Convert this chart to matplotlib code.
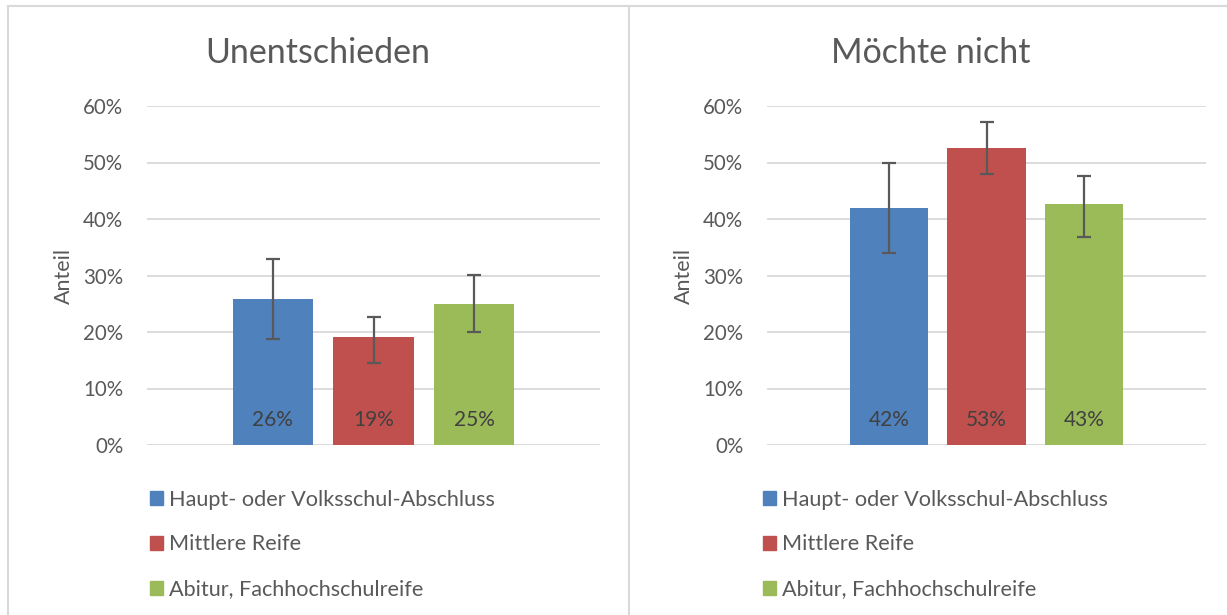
import numpy as np
import matplotlib
matplotlib.use("Agg")
import matplotlib.pyplot as plt
from matplotlib.lines import Line2D

plt.rcParams['font.family'] = ['Lato', 'DejaVu Sans']

# --- data ---
groups = ["Haupt- oder Volksschul-Abschluss", "Mittlere Reife", "Abitur, Fachhochschulreife"]
colors = ["#4f81bd", "#c0504d", "#9bbb59"]

titles = ["Unentschieden", "Möchte nicht"]
undecided = [0.258, 0.191, 0.250]
undecided_lo = [0.188, 0.145, 0.200]
undecided_hi = [0.329, 0.227, 0.301]

refuse = [0.419, 0.526, 0.426]
refuse_lo = [0.339, 0.480, 0.368]
refuse_hi = [0.500, 0.572, 0.476]

yticks = [0, 0.1, 0.2, 0.3, 0.4, 0.5, 0.6]
ylabels = ["0%", "10%", "20%", "30%", "40%", "50%", "60%"]

W, H = 1227, 615
fig = plt.figure(figsize=(W / 100, H / 100), dpi=100)

def px_axes(x0, x1, y0, y1):
    return fig.add_axes([x0 / W, 1 - y1 / H, (x1 - x0) / W, (y1 - y0) / H])

panels = [
    (px_axes(147, 600, 106, 445), undecided, undecided_lo, undecided_hi, 318, 148),
    (px_axes(767, 1206, 106, 445), refuse, refuse_lo, refuse_hi, 931, 761),
]

grid_c = "#d9d9d9"
txt_c = "#595959"

for i, (ax, vals, lo, hi, title_x, leg_x) in enumerate(panels):
    x = np.arange(len(vals))
    vals = np.array(vals)
    yerr = [vals - np.array(lo), np.array(hi) - vals]
    ax.bar(x, vals, width=0.8, color=colors, zorder=2)
    ax.errorbar(x, vals, yerr=yerr, fmt="none", ecolor="#595959",
                elinewidth=1.6, capsize=5, capthick=1.6, zorder=3)
    for xi, v in zip(x, vals):
        ax.text(xi, 0.044, f"{round(v * 100):.0f}%", ha="center", va="center",
                fontsize=15, color="#404040", zorder=4)
    ax.set_xlim(-1.25, 3.25)
    ax.set_ylim(0, 0.6)
    ax.set_yticks(yticks)
    ax.set_yticklabels(ylabels, fontsize=14.8, color=txt_c)
    ax.set_xticks([])
    ax.tick_params(axis="y", length=0, pad=17)
    ax.grid(axis="y", color=grid_c, lw=1.3, zorder=0)
    for s in ax.spines.values():
        s.set_visible(False)
    ax.set_ylabel("Anteil", fontsize=15.5, color=txt_c, labelpad=7)

    fig.text(title_x / W, 1 - 53 / H, titles[i], ha="center", va="center",
             fontsize=24.5, color=txt_c)

    handles = [plt.Rectangle((0, 0), 1, 1, color=c) for c in colors]
    fig.legend(handles, groups, loc="upper left",
               bbox_to_anchor=((leg_x - 18) / W, 1 - 470 / H),
               frameon=False, fontsize=15.6, handlelength=0.6, handleheight=0.6,
               handletextpad=0.3, labelspacing=1.15, labelcolor=txt_c)

# panel borders
fig.add_artist(Line2D([8 / W, 1], [1 - 6 / H, 1 - 6 / H], color=grid_c, lw=1.5))
fig.add_artist(Line2D([8 / W, 8 / W], [0, 1 - 6 / H], color=grid_c, lw=1.5))
fig.add_artist(Line2D([629 / W, 629 / W], [0, 1 - 6 / H], color=grid_c, lw=1.5))

fig.savefig("out.png", dpi=100)
